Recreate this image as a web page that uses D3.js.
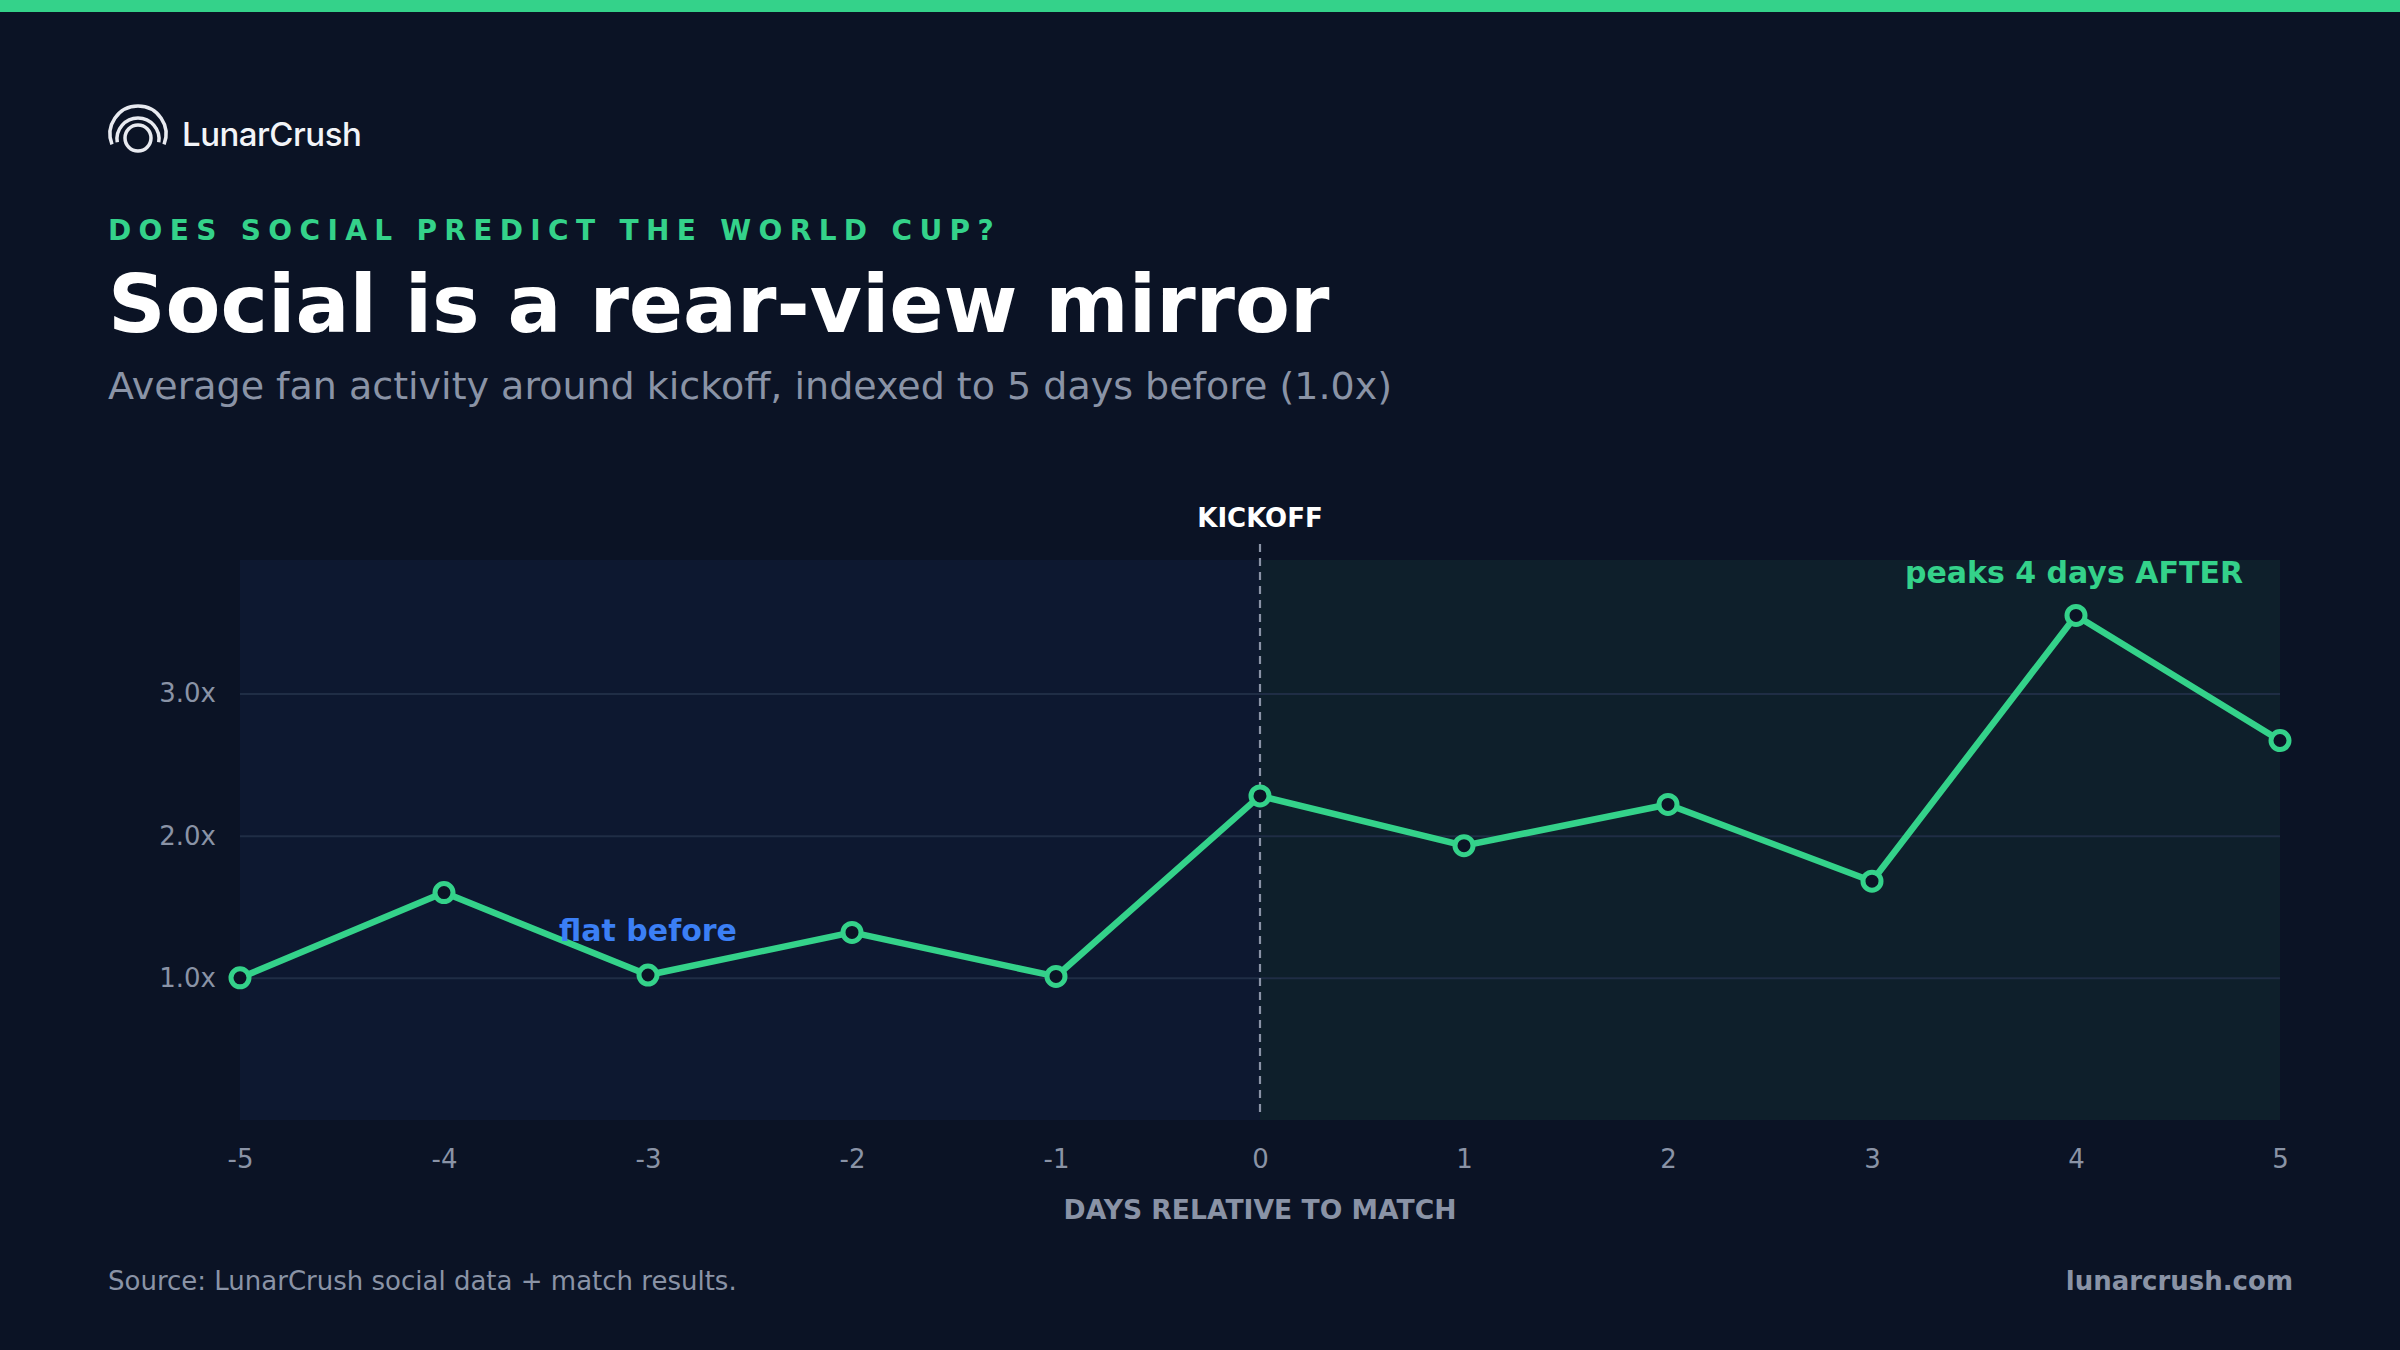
<!DOCTYPE html>
<html>
<head>
<meta charset="utf-8">
<script src="https://cdn.jsdelivr.net/npm/d3@7"></script>
<style>
  html, body { margin: 0; padding: 0; background: #0b1325; }
  svg { display: block; }
</style>
</head>
<body>
<div id="chart"></div>
<script>
'use strict'

// data
const days = [-5, -4, -3, -2, -1, 0, 1, 2, 3, 4, 5]
const activity = [1.0, 1.6, 1.02, 1.32, 1.01, 2.28, 1.93, 2.22, 1.68, 3.55, 2.67]
const yTicks = [1, 2, 3]
const yMax = 3.94

const W = 2400, H = 1350
const margin = { left: 240, right: 120, top: 560, bottom: 230 }
const width = W - margin.left - margin.right
const height = H - margin.top - margin.bottom

const green = '#34d28a'
const gray = '#8a93a6'
const font = "'DejaVu Sans', sans-serif"

const svg = d3.select('#chart').append('svg')
    .attr('width', W)
    .attr('height', H)
    .style('font-family', font)

svg.append('rect').attr('width', W).attr('height', H).attr('fill', '#0b1325')
svg.append('rect').attr('width', W).attr('height', 12).attr('fill', green)

////////////////////////////////////
//////////// header ////////////////
////////////////////////////////////

// logo mark
const logo = svg.append('g').attr('fill', 'none').attr('stroke', '#e8eaf0').attr('stroke-linecap', 'round')
logo.append('circle').attr('cx', 138).attr('cy', 138).attr('r', 13).attr('stroke-width', 3.5)
logo.append('path')
    .attr('d', d3.arc()({ innerRadius: 28, outerRadius: 28, startAngle: -Math.PI * 0.62, endAngle: Math.PI * 0.62 }))
    .attr('transform', 'translate(138,134)').attr('stroke-width', 3.5)
logo.append('path')
    .attr('d', d3.arc()({ innerRadius: 21, outerRadius: 21, startAngle: -Math.PI * 0.55, endAngle: Math.PI * 0.55 }))
    .attr('transform', 'translate(138,139)').attr('stroke-width', 3.5)

svg.append('text')
    .attr('x', 182).attr('y', 146)
    .attr('font-family', 'Inter, sans-serif').attr('font-weight', 500)
    .attr('font-size', 33).attr('letter-spacing', -0.5)
    .attr('fill', '#f2f4f8')
    .text('LunarCrush')

svg.append('text')
    .attr('x', 108).attr('y', 240)
    .attr('font-size', 28).attr('font-weight', 'bold')
    .attr('letter-spacing', 7.35)
    .attr('fill', green)
    .text('DOES SOCIAL PREDICT THE WORLD CUP?')

svg.append('text')
    .attr('x', 108).attr('y', 332)
    .attr('font-size', 80).attr('font-weight', 'bold')
    .attr('fill', '#ffffff')
    .text('Social is a rear-view mirror')

svg.append('text')
    .attr('x', 108).attr('y', 399)
    .attr('font-size', 38)
    .attr('fill', gray)
    .text('Average fan activity around kickoff, indexed to 5 days before (1.0x)')

////////////////////////////////////
//////////// chart /////////////////
////////////////////////////////////

const g = svg.append('g').attr('transform', `translate(${margin.left},${margin.top})`)

const x = d3.scaleLinear().domain([d3.min(days), d3.max(days)]).range([0, width])
const y = d3.scaleLinear().domain([0, yMax]).range([height, 0])

// before / after panels
g.append('rect')
    .attr('x', 0).attr('y', 0)
    .attr('width', x(0)).attr('height', height)
    .attr('fill', '#0d1830')
g.append('rect')
    .attr('x', x(0)).attr('y', 0)
    .attr('width', width - x(0)).attr('height', height)
    .attr('fill', '#0e1f2b')

// grid
g.append('g')
    .call(d3.axisLeft(y).tickValues(yTicks).tickSize(-width).tickFormat(''))
    .call(a => a.select('.domain').remove())
    .selectAll('line')
    .attr('stroke', '#1f2d45').attr('stroke-width', 2)

// y labels
g.append('g')
    .call(d3.axisLeft(y).tickValues(yTicks).tickSize(0).tickPadding(24).tickFormat(d => d3.format('.1f')(d) + 'x'))
    .call(a => a.select('.domain').remove())
    .selectAll('text')
    .attr('font-family', font).attr('font-size', 26).attr('fill', gray)

// x labels
g.append('g')
    .attr('transform', `translate(0,${height})`)
    .call(d3.axisBottom(x).tickValues(days).tickSize(0).tickPadding(30).tickFormat(d => String(d)))
    .call(a => a.select('.domain').remove())
    .selectAll('text')
    .attr('font-family', font).attr('font-size', 26).attr('fill', gray)

// kickoff marker
g.append('line')
    .attr('x1', x(0)).attr('x2', x(0))
    .attr('y1', -16).attr('y2', height - 6)
    .attr('stroke', gray).attr('stroke-width', 2.2)
    .attr('stroke-dasharray', '8,6')

g.append('text')
    .attr('x', x(0)).attr('y', -33)
    .attr('text-anchor', 'middle')
    .attr('font-size', 26).attr('font-weight', 'bold')
    .attr('fill', '#ffffff')
    .text('KICKOFF')

// series
g.append('path')
    .datum(days.map((d, i) => [d, activity[i]]))
    .attr('fill', 'none')
    .attr('stroke', green)
    .attr('stroke-width', 6.5)
    .attr('stroke-linejoin', 'round')
    .attr('d', d3.line().x(d => x(d[0])).y(d => y(d[1])))

g.selectAll('.dot')
    .data(days)
    .join('circle')
    .attr('class', 'dot')
    .attr('cx', d => x(d))
    .attr('cy', (d, i) => y(activity[i]))
    .attr('r', 9)
    .attr('fill', '#0b1325')
    .attr('stroke', green)
    .attr('stroke-width', 5)

// annotations
g.append('text')
    .attr('x', x(-3)).attr('y', y(activity[2]) - 34)
    .attr('text-anchor', 'middle')
    .attr('font-size', 30).attr('font-weight', 'bold')
    .attr('fill', '#3b7ff5')
    .text('flat before')

g.append('text')
    .attr('x', x(4) + 167).attr('y', 23)
    .attr('text-anchor', 'end')
    .attr('font-size', 30).attr('font-weight', 'bold')
    .attr('fill', green)
    .text('peaks 4 days AFTER')

g.append('text')
    .attr('x', x(0)).attr('y', height + 99)
    .attr('text-anchor', 'middle')
    .attr('font-size', 26.6).attr('font-weight', 'bold')
    .attr('fill', gray)
    .text('DAYS RELATIVE TO MATCH')

////////////////////////////////////
//////////// footer ////////////////
////////////////////////////////////

svg.append('text')
    .attr('x', 108).attr('y', 1290)
    .attr('font-size', 26)
    .attr('fill', gray)
    .text('Source: LunarCrush social data + match results.')

svg.append('text')
    .attr('x', 2293).attr('y', 1290)
    .attr('text-anchor', 'end')
    .attr('font-size', 26).attr('font-weight', 'bold')
    .attr('fill', gray)
    .text('lunarcrush.com')
</script>
</body>
</html>
